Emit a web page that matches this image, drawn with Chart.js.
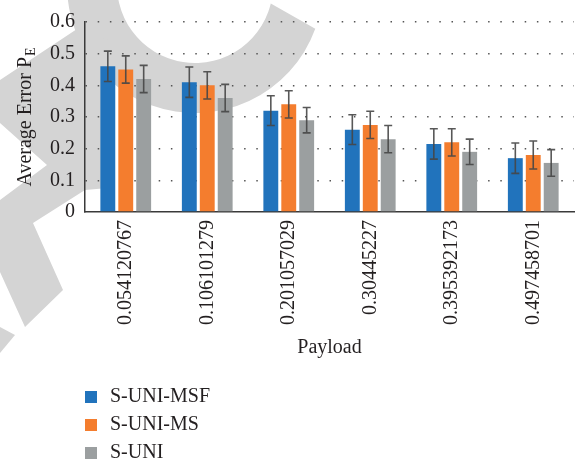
<!DOCTYPE html>
<html>
<head>
<meta charset="utf-8">
<script src="https://cdn.jsdelivr.net/npm/chart.js@4"></script>
<style>
  html, body { margin: 0; padding: 0; background: #ffffff; }
  canvas { display: block; }
</style>
</head>
<body>
<canvas id="chart" width="577" height="463"></canvas>
<script>
// Payload categories on the x axis
const payloads = ['0.054120767', '0.106101279', '0.201057029', '0.30445227', '0.395392173', '0.497458701'];

// Series names
const seriesNames = ['S-UNI-MSF', 'S-UNI-MS', 'S-UNI'];

// Average error per payload
const msfValues = [0.46, 0.41, 0.32, 0.26, 0.215, 0.17];
const msValues  = [0.45, 0.40, 0.34, 0.275, 0.22, 0.18];
const uniValues = [0.42, 0.36, 0.29, 0.23, 0.19, 0.155];

// Half-length of each error bar
const msfErrors = [0.048, 0.048, 0.047, 0.047, 0.048, 0.048];
const msErrors  = [0.043, 0.043, 0.043, 0.043, 0.043, 0.044];
const uniErrors = [0.043, 0.043, 0.040, 0.043, 0.040, 0.042];

// Y axis tick labels
const yTickLabels = ['0', '0.1', '0.2', '0.3', '0.4', '0.5', '0.6'];

const seriesColors = ['#2173bc', '#f47d2e', '#9b9fa0'];
const serif = '"Liberation Serif", "Times New Roman", serif';
const textColor = '#231f20';

Chart.defaults.font.family = serif;
Chart.defaults.font.size = 20;
Chart.defaults.color = textColor;

// Light grey backdrop shapes behind the plot
const backdropPlugin = {
  id: 'backdrop',
  beforeDraw(chart) {
    const ctx = chart.ctx;
    const rad = d => d * Math.PI / 180;
    ctx.save();
    ctx.fillStyle = '#d4d4d4';
    // arc band
    ctx.beginPath();
    ctx.arc(195, -15, 128, rad(20), rad(200));
    ctx.arc(195, -15, 78, rad(200), rad(13.7), true);
    ctx.closePath();
    ctx.fill();
    // left strokes
    ctx.beginPath();
    ctx.moveTo(0, 80);
    ctx.lineTo(80, 27);
    ctx.lineTo(108, 40);
    ctx.lineTo(108, 188);
    ctx.lineTo(85, 190);
    ctx.lineTo(33, 223);
    ctx.lineTo(63, 290);
    ctx.lineTo(25, 327);
    ctx.lineTo(0, 272);
    ctx.lineTo(0, 200);
    ctx.lineTo(47, 165);
    ctx.lineTo(0, 123);
    ctx.closePath();
    ctx.fill();
    ctx.beginPath();
    ctx.moveTo(0, 327);
    ctx.lineTo(15, 335);
    ctx.lineTo(0, 353);
    ctx.closePath();
    ctx.fill();
    ctx.restore();
  }
};

// Error bars drawn on top of every bar
const errorBarPlugin = {
  id: 'errorBars',
  afterDatasetsDraw(chart) {
    const ctx = chart.ctx;
    const yScale = chart.scales.y;
    ctx.save();
    ctx.strokeStyle = 'rgba(70,70,70,0.9)';
    ctx.lineWidth = 1.6;
    chart.data.datasets.forEach((ds, di) => {
      const meta = chart.getDatasetMeta(di);
      meta.data.forEach((bar, i) => {
        const v = ds.data[i];
        const e = ds.errors[i];
        const yTop = yScale.getPixelForValue(v + e);
        const yBot = yScale.getPixelForValue(v - e);
        const x = bar.x;
        const cap = 4;
        ctx.beginPath();
        ctx.moveTo(x, yTop); ctx.lineTo(x, yBot);
        ctx.moveTo(x - cap, yTop); ctx.lineTo(x + cap, yTop);
        ctx.moveTo(x - cap, yBot); ctx.lineTo(x + cap, yBot);
        ctx.stroke();
      });
    });
    ctx.restore();
  }
};

// Y axis title with subscript, and the vertical legend below the plot
const annotationPlugin = {
  id: 'annotations',
  afterDraw(chart) {
    const ctx = chart.ctx;
    const area = chart.chartArea;
    ctx.save();
    ctx.fillStyle = textColor;

    // y axis title: Average Error P_E
    const main = 'Average Error P';
    const sub = 'E';
    ctx.font = '20px ' + serif;
    const wMain = ctx.measureText(main).width;
    ctx.font = '14px ' + serif;
    const wSub = ctx.measureText(sub).width;
    const total = wMain + 1 + wSub;
    const cy = (area.top + area.bottom) / 2;
    ctx.translate(31, cy + total / 2);
    ctx.rotate(-Math.PI / 2);
    ctx.textAlign = 'left';
    ctx.textBaseline = 'alphabetic';
    ctx.font = '20px ' + serif;
    ctx.fillText(main, 0, 0);
    ctx.font = '14px ' + serif;
    ctx.fillText(sub, wMain + 1, 4);
    ctx.setTransform(1, 0, 0, 1, 0, 0);

    // legend
    ctx.font = '20px ' + serif;
    ctx.textBaseline = 'middle';
    chart.data.datasets.forEach((ds, i) => {
      const yc = 397 + i * 28;
      ctx.fillStyle = ds.backgroundColor;
      ctx.fillRect(85, yc - 6, 12, 12);
      ctx.fillStyle = textColor;
      ctx.fillText(ds.label, 110, yc);
    });
    ctx.restore();
  }
};

const valueSets = [msfValues, msValues, uniValues];
const errorSets = [msfErrors, msErrors, uniErrors];

const datasets = seriesNames.map((name, i) => ({
  label: name,
  data: valueSets[i],
  errors: errorSets[i],
  backgroundColor: seriesColors[i],
  borderWidth: 0,
  barPercentage: 0.83,
  categoryPercentage: 0.66
}));

new Chart(document.getElementById('chart'), {
  type: 'bar',
  data: { labels: payloads, datasets },
  options: {
    responsive: false,
    animation: false,
    events: [],
    layout: { padding: { top: 16, right: 3, bottom: 103, left: 0 } },
    plugins: {
      legend: { display: false },
      tooltip: { enabled: false }
    },
    scales: {
      x: {
        grid: { display: false, drawTicks: false },
        border: { display: true, color: '#3a3a3a', width: 1.5 },
        ticks: {
          minRotation: 90,
          maxRotation: 90,
          autoSkip: false,
          padding: 8,
          color: textColor,
          font: { size: 20, family: serif }
        },
        title: {
          display: true,
          text: 'Payload',
          color: textColor,
          padding: { top: 0, bottom: 0 },
          font: { size: 20, family: serif }
        },
        afterFit(scale) { scale.height = 148; }
      },
      y: {
        min: 0,
        max: 0.6,
        grid: {
          drawTicks: false,
          lineWidth: 1.5,
          color: c => (c.tick && c.tick.value === 0) ? 'rgba(0,0,0,0)' : '#555555'
        },
        border: { display: true, color: '#3a3a3a', width: 1.5, dash: [1.5, 10.7] },
        ticks: {
          stepSize: 0.1,
          padding: 10,
          color: textColor,
          font: { size: 20, family: serif },
          callback: (value, index) => yTickLabels[index]
        },
        afterFit(scale) { scale.width = 85; }
      }
    }
  },
  plugins: [backdropPlugin, errorBarPlugin, annotationPlugin]
});
</script>
</body>
</html>
